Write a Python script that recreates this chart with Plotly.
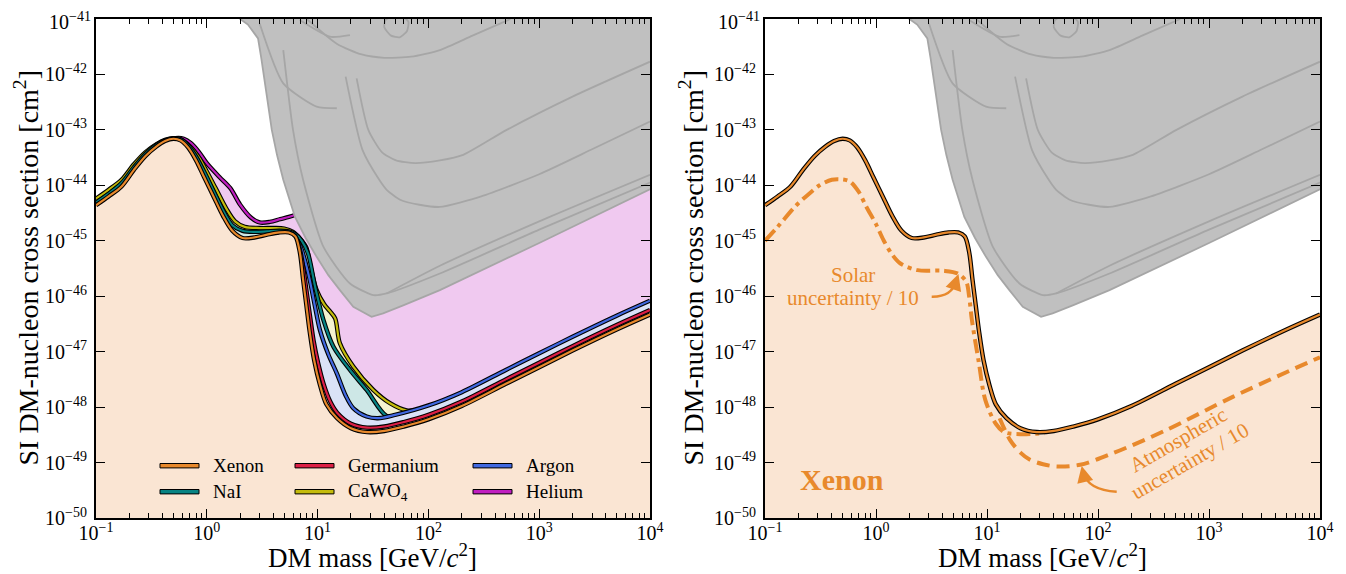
import plotly.graph_objects as go

# page body adds an 8 px margin, so the figure is 8 px smaller than the window
OFF = 8
W, H = 1346 - OFF, 574 - OFF
FONT = "Liberation Serif"

# ---------------- tick labels ----------------
X_TICKVALS = [1e-1, 1e0, 1e1, 1e2, 1e3, 1e4]
X_TICKTEXT = ["10<sup>−1</sup>", "10<sup>0</sup>", "10<sup>1</sup>", "10<sup>2</sup>",
              "10<sup>3</sup>", "10<sup>4</sup>"]
Y_TICKVALS = [1e-50, 1e-49, 1e-48, 1e-47, 1e-46, 1e-45, 1e-44, 1e-43, 1e-42, 1e-41]
Y_TICKTEXT = ["10<sup>−50</sup>", "10<sup>−49</sup>", "10<sup>−48</sup>", "10<sup>−47</sup>",
              "10<sup>−46</sup>", "10<sup>−45</sup>", "10<sup>−44</sup>", "10<sup>−43</sup>",
              "10<sup>−42</sup>", "10<sup>−41</sup>"]
X_MINOR = [k * d for d in (1e-1, 1e0, 1e1, 1e2, 1e3) for k in range(2, 10)]

# ---------------- data: mass [GeV/c^2], log10(sigma / cm^2) ----------------
XE_M = [0.1, 0.13, 0.17, 0.22, 0.28, 0.35, 0.42, 0.5, 0.58, 0.68, 0.8, 0.95, 1.15, 1.4, 1.7,
        2.1, 2.7, 3.5, 4.5, 5.5, 6.3, 6.9, 7.4, 7.9, 8.5, 9.3, 10.5, 12, 15, 20, 28, 40, 60,
        100, 200, 500, 1000, 2000, 5000, 10000]
XE_LS = [-44.36, -44.2, -44.02, -43.72, -43.47, -43.3, -43.2, -43.16, -43.19, -43.32, -43.55,
         -43.86, -44.2, -44.55, -44.82, -44.95, -44.94, -44.89, -44.85, -44.85, -44.92, -45.2,
         -45.7, -46.15, -46.65, -47.15, -47.6, -47.95, -48.2, -48.38, -48.45, -48.43, -48.35,
         -48.22, -47.98, -47.58, -47.28, -46.98, -46.6, -46.33]

GE_M = [5.5, 6.3, 7.0, 7.5, 8.0, 8.6, 9.2, 10.1, 11.4, 13.0, 15, 20, 28, 40, 60, 100, 200,
        500, 1000, 2000, 5000, 10000]
GE_LS = [-44.86, -44.92, -45.2, -45.55, -45.95, -46.4, -46.8, -47.2, -47.6, -47.9, -48.1,
         -48.3, -48.37, -48.35, -48.27, -48.14, -47.9, -47.5, -47.2, -46.9, -46.52, -46.25]

AR_M = [5.5, 6.2, 7.0, 7.8, 8.5, 9.5, 10.5, 12.5, 14.9, 18, 21, 27.7, 35, 50, 100, 200, 500,
        1000, 2000, 5000, 10000]
AR_LS = [-44.86, -44.92, -45.1, -45.4, -45.71, -46.2, -46.61, -47.05, -47.39, -47.8, -48.02,
         -48.17, -48.2, -48.14, -47.97, -47.73, -47.33, -47.03, -46.73, -46.35, -46.08]

NA_M = [0.1, 0.13, 0.17, 0.22, 0.28, 0.35, 0.42, 0.5, 0.58, 0.68, 0.8, 0.95, 1.15, 1.4, 1.7,
        2.1, 2.7, 3.5, 4.5, 5.5, 6.3, 7.2, 8.2, 9.5, 11.3, 13.9, 19.6, 27.7, 42, 55, 100, 200,
        500, 1000, 2000, 5000, 10000]
NA_LS = [-44.31, -44.15, -43.96, -43.67, -43.43, -43.27, -43.19, -43.15, -43.17, -43.28,
         -43.48, -43.76, -44.1, -44.45, -44.72, -44.82, -44.84, -44.83, -44.82, -44.83, -44.88,
         -45.0, -45.23, -45.83, -46.43, -46.91, -47.33, -47.69, -48.16, -48.15, -47.99, -47.75,
         -47.35, -47.05, -46.75, -46.37, -46.1]

CA_M = [0.1, 0.13, 0.17, 0.22, 0.28, 0.35, 0.42, 0.5, 0.58, 0.7, 0.85, 1.0, 1.2, 1.5, 1.8,
        2.2, 3.0, 4.0, 5.0, 6.0, 7.0, 7.9, 8.5, 9.8, 11.5, 12.9, 14.4, 15.9, 21, 31.8, 45, 63.6,
        80, 100, 200, 500, 1000, 2000, 5000, 10000]
CA_LS = [-44.24, -44.08, -43.9, -43.62, -43.4, -43.26, -43.18, -43.15, -43.17, -43.29, -43.5,
         -43.75, -44.05, -44.42, -44.65, -44.75, -44.77, -44.77, -44.78, -44.84, -44.97, -45.12,
         -45.4, -45.89, -46.15, -46.27, -46.4, -46.85, -47.27, -47.69, -47.93, -48.06, -48.05,
         -47.99, -47.75, -47.35, -47.05, -46.75, -46.37, -46.1]

HE_M = [0.1, 0.2, 0.3, 0.42, 0.52, 0.62, 0.72, 0.85, 1.0, 1.3, 1.63, 2.0, 2.5, 3.0, 3.7, 4.6,
        5.5, 6.3, 7.5, 10, 20, 50, 100, 1000, 10000]
HE_LS = [-44.45, -43.85, -43.45, -43.22, -43.15, -43.16, -43.24, -43.4, -43.6, -43.85, -44.05,
         -44.35, -44.58, -44.67, -44.66, -44.61, -44.57, -44.53, -44.45, -44.3, -44.0, -43.6,
         -43.3, -42.5, -41.7]

SOL_M = [0.1, 0.13, 0.185, 0.25, 0.31, 0.4, 0.47, 0.58, 0.7, 0.82, 1.0, 1.17, 1.4, 1.66, 2.37,
         4.0, 5.45, 6.5, 6.9, 7.3, 8.45, 9.65, 12, 14.3, 20, 33]
SOL_LS = [-45.0, -44.75, -44.39, -44.15, -44.0, -43.9, -43.89, -43.93, -44.12, -44.39, -44.7,
          -44.99, -45.25, -45.41, -45.53, -45.54, -45.59, -45.74, -46.0, -46.42, -47.2, -47.87,
          -48.3, -48.45, -48.49, -48.47]

ATM_M = [13, 16.1, 20, 24.4, 32, 42.5, 69, 137, 416, 1656, 10000]
ATM_LS = [-48.2, -48.59, -48.82, -48.95, -49.03, -49.07, -49.04, -48.83, -48.41, -47.81, -47.1]

GRAY_M = [1.7, 2.0, 2.35, 2.63, 2.9, 3.1, 3.35, 3.6, 3.86, 4.3, 4.9, 6.25, 7.8, 9.8, 12.5,
          15.9, 21, 30.7, 39, 60, 127, 1000, 10000, 15000, 15000, 1.7]
GRAY_LS = [-40.85, -41.0, -41.1, -41.23, -41.35, -41.7, -42.15, -42.6, -43.0, -43.45, -43.9,
           -44.57, -44.95, -45.29, -45.62, -45.89, -46.19, -46.37, -46.31, -46.16, -45.89,
           -45.04, -44.08, -43.9, -40.5, -40.5]

EXC1_M = [4.9, 6.0, 7.4, 11.3, 19.6, 31.8, 42, 127, 1000, 10000]
EXC1_LS = [-41.56, -43.0, -43.9, -45.11, -45.77, -45.98, -45.95, -45.59, -44.8, -43.95]
EXC2_M = [22.5, 28.7, 38, 51, 76, 127, 206, 509, 2000, 10000]
EXC2_LS = [-42.07, -43.0, -43.4, -43.55, -43.6, -43.55, -43.45, -43.0, -42.4, -41.77]
EXC3_M = [17.9, 25.4, 36, 42, 55.5, 83, 127, 300, 1000, 3000, 10000]
EXC3_LS = [-42.04, -43.36, -43.9, -44.08, -44.26, -44.35, -44.39, -44.2, -43.8, -43.35, -42.85]
EXC4_M = [8, 15, 25, 40, 70, 127, 250, 550]
EXC4_LS = [-41.0, -41.45, -41.64, -41.7, -41.68, -41.56, -41.3, -41.0]
EXC5_M = [3.0, 4.9, 9.8, 14.9]
EXC5_LS = [-41.08, -42.16, -42.58, -42.61]
EXC6_M = [6.9, 12.9, 19.6]
EXC6_LS = [-41.02, -41.32, -41.29]
EXC7_M = [40, 46, 55, 64, 66, 58, 47, 41, 40]
EXC7_LS = [-41.15, -41.3, -41.33, -41.22, -41.05, -40.95, -40.95, -41.02, -41.15]
EXC8_M = [42, 127, 1000, 10000]
EXC8_LS = [-45.95, -45.45, -44.65, -43.81]

LEGEND_NAMES = ["Xenon", "Germanium", "Argon", "NaI", "CaWO<sub>4</sub>", "Helium"]

# ---------------- styles ----------------
ORANGE, ORANGE_F = "#e8892c", "#fae5d3"
RED, RED_F = "#dc1f45", "#f7d3d6"
BLUE, BLUE_F = "#4169e1", "#dae2f7"
TEAL, TEAL_F = "#078383", "#cde7e6"
YELL, YELL_F = "#c4bb0c", "#f4f3d0"
MAG, MAG_F = "#c01ec0", "#f0c9f0"
GRAY_F, GRAY_L = "#c0c0c0", "#a6a6a6"
LEG_COLORS = [ORANGE, RED, BLUE, TEAL, YELL, MAG]


def sig(ls):
    return [10.0 ** v for v in ls]


fig = go.Figure()
SM = 0.9


def add_floor(m, ls, col, fcol, xa, ya, outline=True):
    fig.add_trace(go.Scatter(x=[m[0], m[-1]], y=[1e-52, 1e-52], mode="lines",
                             line=dict(width=0), hoverinfo="skip", showlegend=False,
                             xaxis=xa, yaxis=ya))
    fig.add_trace(go.Scatter(x=m, y=sig(ls), mode="lines", fill="tonexty", fillcolor=fcol,
                             line=dict(width=0, shape="spline", smoothing=SM),
                             hoverinfo="skip", showlegend=False, xaxis=xa, yaxis=ya))
    if outline:
        add_outline(m, ls, col, xa, ya)


def add_outline(m, ls, col, xa, ya):
    fig.add_trace(go.Scatter(x=m, y=sig(ls), mode="lines",
                             line=dict(color="black", width=4.4, shape="spline", smoothing=SM),
                             hoverinfo="skip", showlegend=False, xaxis=xa, yaxis=ya))
    fig.add_trace(go.Scatter(x=m, y=sig(ls), mode="lines",
                             line=dict(color=col, width=2.2, shape="spline", smoothing=SM),
                             hoverinfo="skip", showlegend=False, xaxis=xa, yaxis=ya))


def add_gray(xa, ya):
    fig.add_trace(go.Scatter(x=GRAY_M, y=sig(GRAY_LS), mode="lines", fill="toself",
                             fillcolor=GRAY_F, line=dict(color=GRAY_L, width=1.8),
                             hoverinfo="skip", showlegend=False, xaxis=xa, yaxis=ya))
    for m, ls in [(EXC1_M, EXC1_LS), (EXC2_M, EXC2_LS), (EXC3_M, EXC3_LS), (EXC4_M, EXC4_LS),
                  (EXC5_M, EXC5_LS), (EXC6_M, EXC6_LS), (EXC7_M, EXC7_LS), (EXC8_M, EXC8_LS)]:
        fig.add_trace(go.Scatter(x=m, y=sig(ls), mode="lines",
                                 line=dict(color=GRAY_L, width=1.8, shape="spline", smoothing=0.6),
                                 hoverinfo="skip", showlegend=False, xaxis=xa, yaxis=ya))


# ---- left panel ----
for m, ls, c, f in [(HE_M, HE_LS, MAG, MAG_F), (CA_M, CA_LS, YELL, YELL_F),
                    (NA_M, NA_LS, TEAL, TEAL_F), (AR_M, AR_LS, BLUE, BLUE_F),
                    (GE_M, GE_LS, RED, RED_F), (XE_M, XE_LS, ORANGE, ORANGE_F)]:
    add_floor(m, ls, c, f, "x", "y")
add_gray("x", "y")

# ---- right panel ----
add_floor(XE_M, XE_LS, ORANGE, ORANGE_F, "x2", "y2", outline=False)
fig.add_trace(go.Scatter(x=SOL_M, y=sig(SOL_LS), mode="lines",
                         line=dict(color=ORANGE, width=4, dash="14px,5px,4px,5px",
                                   shape="spline", smoothing=SM),
                         hoverinfo="skip", showlegend=False, xaxis="x2", yaxis="y2"))
fig.add_trace(go.Scatter(x=ATM_M, y=sig(ATM_LS), mode="lines",
                         line=dict(color=ORANGE, width=4, dash="13px,7px",
                                   shape="spline", smoothing=SM),
                         hoverinfo="skip", showlegend=False, xaxis="x2", yaxis="y2"))
add_outline(XE_M, XE_LS, ORANGE, "x2", "y2")
add_gray("x2", "y2")


# ---------------- axes (positions given in window pixels) ----------------
def px(x):
    return (x - OFF) / W


def py(y):
    return 1 - (y - OFF) / H


XD1 = [px(96), px(650)]
XD2 = [px(765), px(1320)]
YD = [py(518), py(19)]

# the topmost y label sits at the page edge: draw it as a text box kept inside the page
Y_AXIS_TEXT = Y_TICKTEXT[:-1] + [""]
TOP_LABEL = Y_TICKTEXT[-1]

tickfont = dict(family=FONT, size=20, color="black")
xcommon = dict(type="log", range=[-1, 4], showline=True, linecolor="black", linewidth=2,
               mirror="allticks", ticks="inside", ticklen=9, tickwidth=1.3, tickcolor="black",
               tickmode="array", tickvals=X_TICKVALS, ticktext=X_TICKTEXT, tickfont=tickfont,
               showgrid=False, zeroline=False, automargin=False, ticklabelstandoff=-4,
               ticklabeloverflow="allow",
               minor=dict(ticks="inside", ticklen=5, tickwidth=1.1, tickcolor="black",
                          tickmode="array", tickvals=X_MINOR, showgrid=False))
ycommon = dict(type="log", range=[-50, -41], showline=True, linecolor="black", linewidth=2,
               mirror="allticks", ticks="inside", ticklen=9, tickwidth=1.3, tickcolor="black",
               tickmode="array", tickvals=Y_TICKVALS, ticktext=Y_AXIS_TEXT, tickfont=tickfont,
               showgrid=False, zeroline=False, automargin=False, ticklabelstandoff=3,
               ticklabeloverflow="allow")

fig.update_layout(
    width=W, height=H, margin=dict(l=0, r=0, t=0, b=0, pad=0), autosize=False,
    plot_bgcolor="white", paper_bgcolor="white", showlegend=False,
    xaxis=dict(domain=XD1, anchor="y", **xcommon),
    yaxis=dict(domain=YD, anchor="x", **ycommon),
    xaxis2=dict(domain=XD2, anchor="y2", **xcommon),
    yaxis2=dict(domain=YD, anchor="x2", **ycommon),
)

ann = []
shapes = []
for xa in (96, 765):
    ann.append(dict(x=px(xa - 4), y=1.0, xref="paper", yref="paper", text=TOP_LABEL,
                    showarrow=False, font=tickfont, xanchor="right", yanchor="top",
                    borderpad=0))

TITLE_FONT = dict(family=FONT, size=27, color="black")
XTITLE = "DM mass [GeV/<i>c</i><sup>2</sup>]"
YTITLE = "SI DM-nucleon cross section [cm<sup>2</sup>]"
for xc in (373, 1042.5):
    ann.append(dict(x=px(xc), y=py(574), xref="paper", yref="paper", text=XTITLE,
                    showarrow=False, font=TITLE_FONT, xanchor="center", yanchor="bottom",
                    borderpad=0))
for xc in (27, 692):
    ann.append(dict(x=px(xc), y=py(268.5), xref="paper", yref="paper", text=YTITLE,
                    textangle=-90, showarrow=False, font=dict(family=FONT, size=28, color="black"),
                    xanchor="center", yanchor="middle", borderpad=0))

# legend (left panel)
LEG_X = [160, 295, 473]
LEG_Y = [465.7, 491.7]
for i, (name, col) in enumerate(zip(LEGEND_NAMES, LEG_COLORS)):
    r, c = divmod(i, 3)
    x0 = LEG_X[c]
    yc = LEG_Y[r]
    shapes.append(dict(type="rect", xref="paper", yref="paper", x0=px(x0), x1=px(x0 + 39),
                       y0=py(yc + 2.2), y1=py(yc - 2.2), fillcolor=col,
                       line=dict(color="black", width=1)))
    ann.append(dict(x=px(x0 + 51), y=py(yc), xref="paper", yref="paper", text=name,
                    showarrow=False, xanchor="left", yanchor="middle",
                    font=dict(family=FONT, size=19, color="black")))

# right-panel annotations
OFONT = dict(family=FONT, size=21, color=ORANGE)
ann.append(dict(x=px(853), y=py(275), xref="paper", yref="paper", text="Solar",
                showarrow=False, font=OFONT, xanchor="center", yanchor="middle"))
ann.append(dict(x=px(853), y=py(298), xref="paper", yref="paper", text="uncertainty / 10",
                showarrow=False, font=OFONT, xanchor="center", yanchor="middle"))
ann.append(dict(x=px(1178), y=py(440), xref="paper", yref="paper", text="Atmospheric",
                showarrow=False, font=OFONT, textangle=-30, xanchor="center", yanchor="middle"))
ann.append(dict(x=px(1190), y=py(461), xref="paper", yref="paper", text="uncertainty / 10",
                showarrow=False, font=OFONT, textangle=-30, xanchor="center", yanchor="middle"))
ann.append(dict(x=px(842), y=py(479), xref="paper", yref="paper", text="<b>Xenon</b>",
                showarrow=False, font=dict(family=FONT, size=30, color=ORANGE),
                xanchor="center", yanchor="middle"))

# curved arrows
shapes.append(dict(type="path", xref="paper", yref="paper",
                   path=f"M {px(931.7)},{py(296.7)} Q {px(952)},{py(297)} {px(956)},{py(281)}",
                   line=dict(color=ORANGE, width=2.5)))
ann.append(dict(x=px(958.5), y=py(274), xref="paper", yref="paper", text="", showarrow=True,
                ax=-3, ay=9, arrowhead=2, arrowsize=1.3, arrowwidth=2.5, arrowcolor=ORANGE))
shapes.append(dict(type="path", xref="paper", yref="paper",
                   path=f"M {px(1116.7)},{py(491.7)} Q {px(1088)},{py(490)} {px(1083.5)},{py(473)}",
                   line=dict(color=ORANGE, width=2.5)))
ann.append(dict(x=px(1081.7), y=py(466), xref="paper", yref="paper", text="", showarrow=True,
                ax=2, ay=9, arrowhead=2, arrowsize=1.3, arrowwidth=2.5, arrowcolor=ORANGE))

fig.update_layout(annotations=ann, shapes=shapes)
fig.write_html("out.html")
